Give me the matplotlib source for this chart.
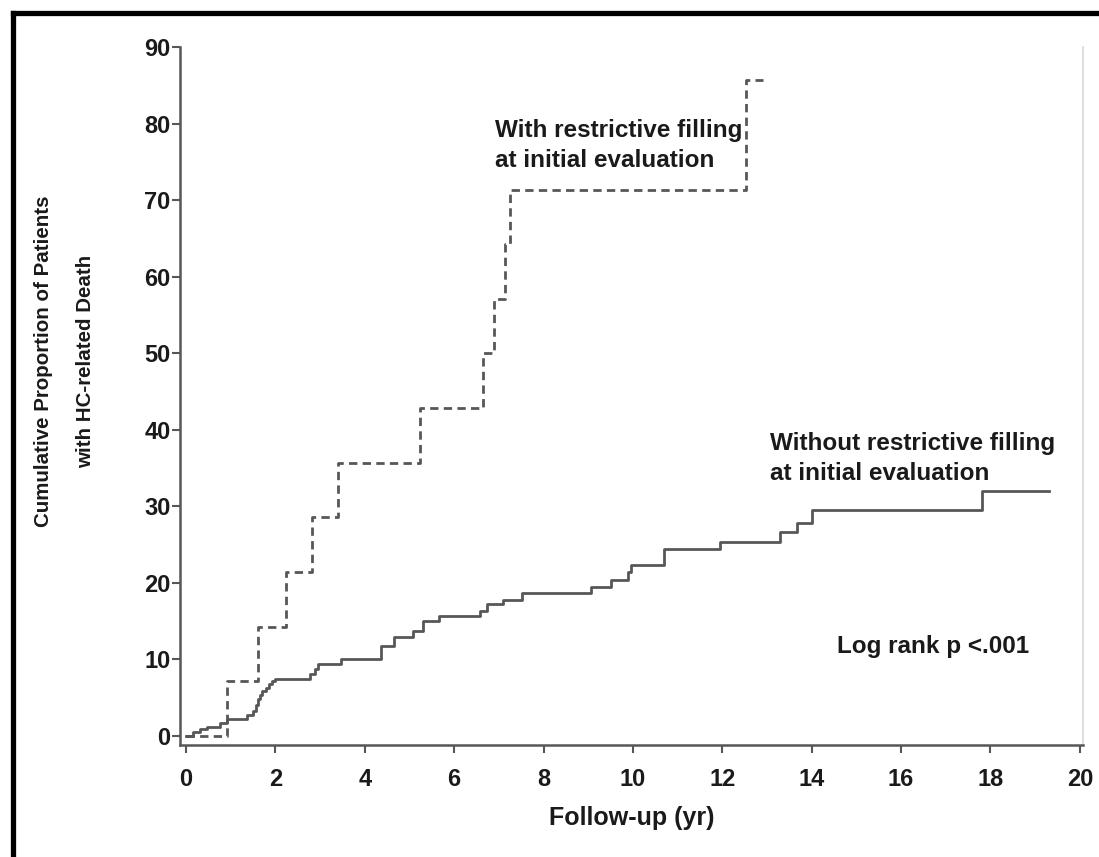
import matplotlib
matplotlib.use("Agg")
import matplotlib.pyplot as plt
from matplotlib.lines import Line2D

# Kaplan-Meier style cumulative incidence
t_without = [0, 0.16, 0.31, 0.46, 0.76, 0.91, 1.36, 1.5, 1.56, 1.6, 1.65, 1.7, 1.78,
             1.86, 1.93, 2.0, 2.77, 2.89, 2.96, 3.46, 4.36, 4.66, 5.08, 5.3, 5.67,
             6.58, 6.73, 7.1, 7.51, 9.06, 9.52, 9.9, 9.95, 10.7, 11.95, 13.29,
             13.68, 14.0, 17.8, 19.3]
y_without = [0, 0.5, 0.9, 1.2, 1.65, 2.2, 2.7, 3.3, 4.0, 4.8, 5.4, 5.9, 6.3,
             6.8, 7.2, 7.5, 8.1, 8.7, 9.4, 10.0, 11.8, 13.0, 13.7, 15.0, 15.7,
             16.4, 17.2, 17.8, 18.7, 19.5, 20.4, 21.4, 22.3, 24.4, 25.4, 26.6,
             27.8, 29.5, 32.0, 32.0]

t_with = [0, 0.92, 1.6, 2.23, 2.83, 3.41, 5.23, 6.65, 6.9, 7.14, 7.24, 12.54, 12.92]
y_with = [0, 7.14, 14.29, 21.43, 28.57, 35.71, 42.86, 50.0, 57.14, 64.29, 71.43,
          85.71, 85.71]

x_ticks = [0, 2, 4, 6, 8, 10, 12, 14, 16, 18, 20]
y_ticks = [0, 10, 20, 30, 40, 50, 60, 70, 80, 90]

label_with = "With restrictive filling\nat initial evaluation"
label_without = "Without restrictive filling\nat initial evaluation"
stat_text = "Log rank p <.001"
ylabel_1 = "Cumulative Proportion of Patients"
ylabel_2 = "with HC-related Death"

line_col = "#575757"
text_col = "#1a1a1a"
sans = ["Liberation Sans", "DejaVu Sans"]

fig = plt.figure(figsize=(10.99, 8.57), dpi=100)
ax = fig.add_axes([0.1638, 0.1307, 0.8216, 0.8145])

ax.step(t_without, y_without, where="post", color=line_col, lw=2.0)
ax.step(t_with, y_with, where="post", color=line_col, lw=2.0,
        linestyle=(0, (3.0, 1.9)))

ax.set_xlim(-0.134, 20.07)
ax.set_ylim(-1.18, 90.07)
ax.set_xticks(x_ticks)
ax.set_yticks(y_ticks)
ax.set_xticklabels([str(v) for v in x_ticks], family=sans, fontsize=17,
                   fontweight="bold", color=text_col)
ax.set_yticklabels([str(v) for v in y_ticks], family=sans, fontsize=17,
                   fontweight="bold", color=text_col)
ax.tick_params(direction="out", length=6, width=1.5, color=line_col)
ax.tick_params(axis="x", pad=10.5)
ax.tick_params(axis="y", pad=0.8)

for s in ["left", "bottom"]:
    ax.spines[s].set_color(line_col)
    ax.spines[s].set_linewidth(1.8)
ax.spines["top"].set_visible(False)
ax.spines["right"].set_color("#dcdcdc")
ax.spines["right"].set_linewidth(1.3)

ax.text(6.91, 80.7, label_with, family=sans, fontsize=17.5, fontweight="bold",
        color=text_col, va="top", ha="left", linespacing=1.42)
ax.text(13.07, 39.8, label_without, family=sans, fontsize=17.5, fontweight="bold",
        color=text_col, va="top", ha="left", linespacing=1.42)
ax.text(14.56, 13.2, stat_text, family=sans, fontsize=17.5, fontweight="bold",
        color=text_col, va="top", ha="left")

fig.text(0.5746, 1 - 818 / 857, "Follow-up (yr)", family=sans, fontsize=18,
         fontweight="bold", color=text_col, ha="center", va="center")
fig.text(44 / 1099, 1 - 361 / 857, ylabel_1, family=sans, fontsize=14.8,
         fontweight="bold", color=text_col, rotation=90, ha="center", va="center")
fig.text(86 / 1099, 1 - 361 / 857, ylabel_2, family=sans, fontsize=14.8,
         fontweight="bold", color=text_col, rotation=90, ha="center", va="center")

# black frame around the panel (top and left edges only are visible)
fig.add_artist(Line2D([13 / 1099, 1.0], [1 - 13 / 857, 1 - 13 / 857],
                      transform=fig.transFigure, color="black", lw=3.8))
fig.add_artist(Line2D([13 / 1099, 13 / 1099], [0.0, 1 - 13 / 857],
                      transform=fig.transFigure, color="black", lw=3.8))

fig.savefig("out.png", dpi=100)
